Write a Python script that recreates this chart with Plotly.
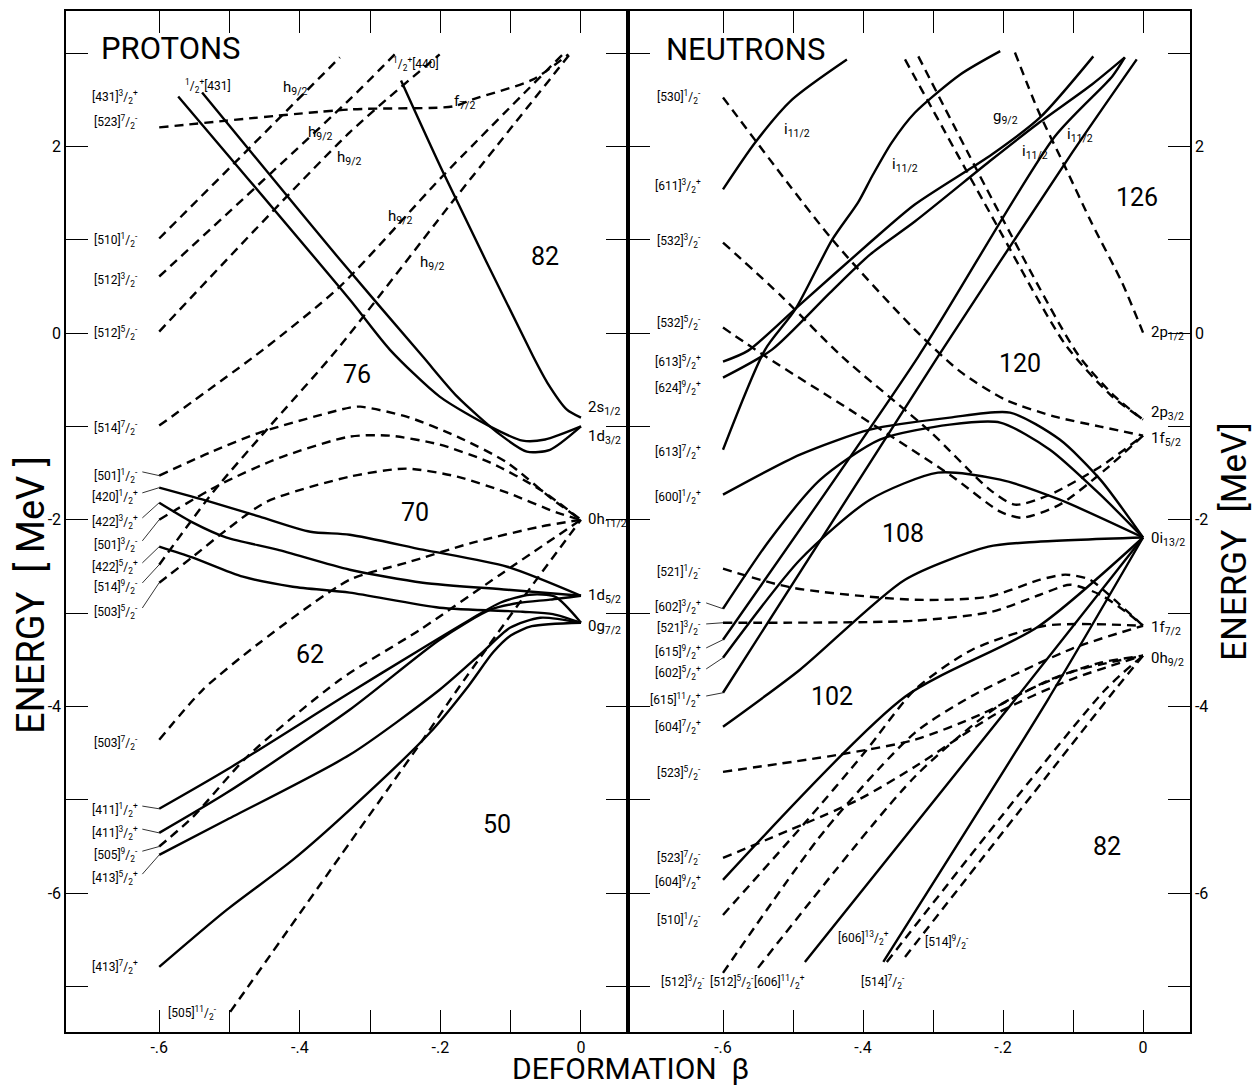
import plotly.graph_objects as go

W, H = 1252, 1087

# ================= PROTONS (left panel): beta, energy [MeV] =================
P431_32_b = [-0.573, -0.329, -0.272, -0.201, -0.129, -0.083, -0.051, 0.0]
P431_32_e = [2.535, 0.359, -0.177, -0.681, -1.002, -1.152, -1.14, -1.0]
P431_12_b = [-0.539, -0.343, -0.225, -0.176, -0.115, -0.077, -0.044, 0.0]
P431_12_e = [2.577, 0.788, -0.252, -0.681, -1.088, -1.27, -1.25, -1.0]
P440_12_b = [-0.256, -0.196, -0.068, -0.048, -0.020, 0.0]
P440_12_e = [2.706, 1.720, -0.252, -0.530, -0.820, -0.906]
P523_72_b = [-0.6, -0.329, -0.182, -0.154, -0.068, -0.018]
P523_72_e = [2.203, 2.395, 2.428, 2.503, 2.717, 2.985]
P510_12_b = [-0.6, -0.343]
P510_12_e = [1.013, 2.953]
P512_32_b = [-0.6, -0.329, -0.265]
P512_32_e = [0.606, 2.503, 2.985]
P512_52_b = [-0.6, -0.329, -0.201]
P512_52_e = [0.016, 2.149, 2.985]
P514_72_b = [-0.6, -0.452, -0.343, -0.196, -0.026]
P514_72_e = [-0.991, -0.177, 0.498, 1.688, 2.985]
P514_92_b = [-0.6, -0.523, -0.447, -0.347, -0.186, -0.016]
P514_92_e = [-2.481, -1.699, -1.034, -0.177, 1.377, 2.985]
P501_12_b = [-0.6, -0.528, -0.457, -0.329, -0.314, -0.248, -0.176, -0.105, -0.040, 0.0]
P501_12_e = [-1.527, -1.281, -1.066, -0.798, -0.788, -0.895, -1.109, -1.388, -1.785, -2.0]
P501_32_b = [-0.6, -0.514, -0.428, -0.329, -0.272, -0.201, -0.129, -0.058, 0.0]
P501_32_e = [-1.999, -1.624, -1.334, -1.109, -1.099, -1.195, -1.388, -1.677, -2.0]
P503_52_b = [-0.6, -0.552, -0.504, -0.447, -0.329, -0.248, -0.176, -0.105, -0.034, 0.0]
P503_52_e = [-2.674, -2.395, -2.106, -1.806, -1.538, -1.452, -1.538, -1.710, -1.924, -2.0]
P503_72_b = [-0.6, -0.538, -0.457, -0.329, -0.248, -0.154, -0.058, 0.0]
P503_72_e = [-4.357, -3.821, -3.317, -2.642, -2.460, -2.245, -2.074, -2.0]
P505_92_b = [-0.6, -0.552, -0.475, -0.343, -0.229, -0.115, 0.0]
P505_92_e = [-5.50, -5.182, -4.539, -3.714, -3.178, -2.588, -2.0]
P505_112_b = [-0.499, -0.329, -0.233, -0.176, -0.077, 0.0]
P505_112_e = [-7.272, -5.461, -4.443, -3.821, -2.781, -2.0]
P420_12_b = [-0.6, -0.528, -0.457, -0.385, -0.329, -0.225, -0.105, 0.0]
P420_12_e = [-1.656, -1.806, -1.967, -2.128, -2.160, -2.320, -2.503, -2.814]
P422_32_b = [-0.6, -0.552, -0.504, -0.432, -0.329, -0.225, -0.105, 0.0]
P422_32_e = [-1.817, -2.031, -2.192, -2.320, -2.535, -2.674, -2.749, -2.814]
P422_52_b = [-0.6, -0.552, -0.481, -0.410, -0.329, -0.201, -0.083, -0.04, 0.0]
P422_52_e = [-2.288, -2.406, -2.610, -2.717, -2.781, -2.942, -2.985, -3.01, -3.103]
P411_12_b = [-0.6, -0.504, -0.329, -0.229, -0.158, -0.115, -0.073, -0.037, 0.0]
P411_12_e = [-5.096, -4.678, -3.853, -3.392, -3.071, -2.889, -2.803, -2.824, -3.103]
P411_32_b = [-0.6, -0.504, -0.329, -0.201, -0.129, -0.087, -0.044, 0.0]
P411_32_e = [-5.354, -4.925, -4.035, -3.285, -2.963, -2.889, -2.856, -2.814]
P413_52_b = [-0.6, -0.504, -0.329, -0.201, -0.144, -0.101, -0.058, 0.0]
P413_52_e = [-5.59, -5.214, -4.518, -3.821, -3.446, -3.157, -3.049, -3.103]
P413_72_b = [-0.6, -0.504, -0.41, -0.329, -0.215, -0.16, -0.125, -0.100, -0.070, 0.0]
P413_72_e = [-6.79, -6.179, -5.643, -5.107, -4.282, -3.78, -3.42, -3.24, -3.14, -3.103]

# ================= NEUTRONS (right panel) =================
N530_12_b = [-0.6, -0.444, -0.326, -0.261, -0.197, -0.126, -0.061, 0.0]
N530_12_e = [2.524, 1.002, 0.037, -0.413, -0.713, -0.895, -1.002, -1.099]
N532_32_b = [-0.6, -0.516, -0.43, -0.304, -0.219, -0.183, -0.133, -0.061, 0.0]
N532_32_e = [0.97, 0.391, -0.252, -1.056, -1.677, -1.838, -1.731, -1.431, -1.099]
N532_52_b = [-0.6, -0.539, -0.419, -0.276, -0.204, -0.173, -0.119, -0.054, 0.0]
N532_52_e = [0.059, -0.252, -0.820, -1.517, -1.913, -1.978, -1.838, -1.463, -1.099]
NP32A_b = [-0.34, -0.219, -0.111, -0.047, 0.0]
NP32A_e = [2.931, 1.292, -0.123, -0.659, -0.927]
NP32B_b = [-0.321, -0.204, -0.093, -0.04, 0.0]
NP32B_e = [2.964, 1.270, -0.230, -0.681, -0.927]
NP12_b = [-0.183, -0.15, -0.111, -0.073, -0.03, 0.0]
NP12_e = [3.006, 2.386, 1.775, 1.174, 0.541, 0.005]
N611_32_b = [-0.6, -0.554, -0.501, -0.423]
N611_32_e = [1.54, 2.042, 2.503, 2.931]
N613_72_b = [-0.6, -0.54, -0.497, -0.444, -0.407, -0.387, -0.359, -0.326, -0.261, -0.204]
N613_72_e = [-1.25, -0.18, 0.25, 1.0, 1.40, 1.68, 2.04, 2.36, 2.77, 3.02]
N613_52_b = [-0.6, -0.564, -0.49, -0.39, -0.326, -0.216, -0.147, -0.071]
N613_52_e = [-0.306, -0.188, 0.305, 0.970, 1.377, 1.913, 2.310, 2.964]
N624_92_b = [-0.6, -0.53, -0.447, -0.39, -0.326, -0.216, -0.15, -0.073, -0.026]
N624_92_e = [-0.477, -0.177, 0.434, 0.841, 1.195, 1.859, 2.245, 2.663, 2.953]
N615_92_b = [-0.6, -0.321, -0.126, -0.044, -0.026]
N615_92_e = [-3.285, -0.252, 2.106, 2.749, 2.953]
N615_112_b = [-0.6, -0.293, -0.101, -0.009]
N615_112_e = [-3.853, -0.252, 1.935, 2.932]
N600_12_b = [-0.6, -0.49, -0.39, -0.276, -0.19, -0.119, -0.061, 0.0]
N600_12_e = [-1.731, -1.302, -1.034, -0.906, -0.852, -1.141, -1.570, -2.19]
N602_32_b = [-0.6, -0.533, -0.461, -0.376, -0.276, -0.204, -0.133, -0.061, 0.0]
N602_32_e = [-2.953, -2.213, -1.570, -1.141, -0.981, -0.959, -1.249, -1.731, -2.19]
N602_52_b = [-0.6, -0.49, -0.39, -0.293, -0.204, -0.119, 0.0]
N602_52_e = [-3.478, -2.428, -1.785, -1.495, -1.570, -1.785, -2.19]
N604_72_b = [-0.6, -0.49, -0.34, -0.221, -0.15, 0.0]
N604_72_e = [-4.217, -3.606, -2.642, -2.288, -2.235, -2.19]
N604_92_b = [-0.6, -0.34, -0.15, 0.0]
N604_92_e = [-5.858, -3.896, -3.146, -2.19]
N606_112_b = [-0.483, -0.183, 0.0]
N606_112_e = [-6.736, -3.928, -2.19]
N606_132_b = [-0.371, -0.136, 0.0]
N606_132_e = [-6.736, -3.928, -2.19]
N521_12_b = [-0.6, -0.501, -0.326, -0.221, -0.147, -0.111, -0.076, -0.033, 0.0]
N521_12_e = [-2.524, -2.728, -2.857, -2.824, -2.642, -2.588, -2.642, -2.910, -3.135]
N521_32_b = [-0.6, -0.326, -0.216, -0.147, -0.104, -0.061, -0.019, 0.0]
N521_32_e = [-3.103, -3.081, -2.985, -2.803, -2.696, -2.803, -3.017, -3.135]
N523_52_b = [-0.6, -0.436, -0.326, -0.233, -0.133, -0.061, 0.0]
N523_52_e = [-4.7, -4.518, -4.357, -4.089, -3.714, -3.531, -3.456]
N523_72_b = [-0.6, -0.407, -0.326, -0.207, -0.104, 0.0]
N523_72_e = [-5.622, -5.0, -4.646, -4.067, -3.714, -3.456]
N510_12_b = [-0.6, -0.483, -0.397, -0.326, -0.244, -0.14, 0.0]
N510_12_e = [-6.233, -5.247, -4.486, -3.821, -3.392, -3.135, -3.135]
N512_32_b = [-0.6, -0.454, -0.326, -0.244, -0.101, 0.0]
N512_32_e = [-6.854, -5.322, -4.282, -3.886, -3.38, -3.135]
N512_52_b = [-0.55, -0.326, -0.204, -0.101, 0.0]
N512_52_e = [-6.8, -4.753, -3.982, -3.628, -3.456]
N514_72_b = [-0.366, -0.054, 0.0]
N514_72_e = [-6.736, -3.821, -3.456]
N514_92_b = [-0.34, -0.04, 0.0]
N514_92_e = [-6.683, -3.821, -3.456]

# ---------------- label energies (left-hand Nilsson labels) ----------------
PL_E = {"431,3,+": 2.524, "523,7,-": 2.256, "510,1,-": 1.002, "512,3,-": 0.573,
        "512,5,-": 0.005, "514,7,-": -1.013, "501,1,-": -1.527, "420,1,+": -1.752,
        "422,3,+": -2.020, "501,3,-": -2.266, "422,5,+": -2.502, "514,9,-": -2.717,
        "503,5,-": -2.985, "503,7,-": -4.389, "411,1,+": -5.107, "411,3,+": -5.354,
        "505,9,-": -5.590, "413,5,+": -5.836, "413,7,+": -6.790}
NL_E = {"530,1,-": 2.524, "611,3,+": 1.570, "532,3,-": 0.981, "532,5,-": 0.113,
        "613,5,+": -0.306, "624,9,+": -0.584, "613,7,+": -1.270, "600,1,+": -1.752,
        "521,1,-": -2.556, "602,3,+": -2.931, "521,3,-": -3.156, "615,9,+": -3.413,
        "602,5,+": -3.638, "615,11,+": -3.928, "604,7,+": -4.217, "523,5,-": -4.710,
        "523,7,-": -5.622, "604,9,+": -5.879, "510,1,-": -6.286}

fig = go.Figure()
DASH = "9px,6px"


def add(b, e, dashed, side):
    fig.add_trace(go.Scatter(
        x=b, y=e, mode="lines",
        line=dict(color="black", width=2.4, dash=DASH if dashed else "solid",
                  shape="spline", smoothing=0.7),
        xaxis="x" if side == 0 else "x2", yaxis="y" if side == 0 else "y2",
        showlegend=False, hoverinfo="skip"))


left_curves = [
    (P431_32_b, P431_32_e, False), (P431_12_b, P431_12_e, False), (P440_12_b, P440_12_e, False),
    (P523_72_b, P523_72_e, True), (P510_12_b, P510_12_e, True), (P512_32_b, P512_32_e, True),
    (P512_52_b, P512_52_e, True), (P514_72_b, P514_72_e, True), (P514_92_b, P514_92_e, True),
    (P501_12_b, P501_12_e, True), (P501_32_b, P501_32_e, True), (P503_52_b, P503_52_e, True),
    (P503_72_b, P503_72_e, True), (P505_92_b, P505_92_e, True), (P505_112_b, P505_112_e, True),
    (P420_12_b, P420_12_e, False), (P422_32_b, P422_32_e, False), (P422_52_b, P422_52_e, False),
    (P411_12_b, P411_12_e, False), (P411_32_b, P411_32_e, False), (P413_52_b, P413_52_e, False),
    (P413_72_b, P413_72_e, False),
]
right_curves = [
    (N530_12_b, N530_12_e, True), (N532_32_b, N532_32_e, True), (N532_52_b, N532_52_e, True),
    (NP32A_b, NP32A_e, True), (NP32B_b, NP32B_e, True), (NP12_b, NP12_e, True),
    (N611_32_b, N611_32_e, False), (N613_72_b, N613_72_e, False), (N613_52_b, N613_52_e, False),
    (N624_92_b, N624_92_e, False), (N615_92_b, N615_92_e, False), (N615_112_b, N615_112_e, False),
    (N600_12_b, N600_12_e, False), (N602_32_b, N602_32_e, False), (N602_52_b, N602_52_e, False),
    (N604_72_b, N604_72_e, False), (N604_92_b, N604_92_e, False), (N606_112_b, N606_112_e, False),
    (N606_132_b, N606_132_e, False),
    (N521_12_b, N521_12_e, True), (N521_32_b, N521_32_e, True), (N523_52_b, N523_52_e, True),
    (N523_72_b, N523_72_e, True), (N510_12_b, N510_12_e, True), (N512_32_b, N512_32_e, True),
    (N512_52_b, N512_52_e, True), (N514_72_b, N514_72_e, True), (N514_92_b, N514_92_e, True),
]
for b, e, d in left_curves:
    add(b, e, d, 0)
for b, e, d in right_curves:
    add(b, e, d, 1)

LAB_B = -0.628  # right edge of the left-hand labels (in beta units)


def leader(lab_e, b, e, side):
    fig.add_trace(go.Scatter(
        x=[LAB_B + 0.004, b[0]], y=[lab_e + 0.04, e[0]], mode="lines",
        line=dict(color="black", width=0.8),
        xaxis="x" if side == 0 else "x2", yaxis="y" if side == 0 else "y2",
        showlegend=False, hoverinfo="skip"))


for key, (b, e) in {"501,1,-": (P501_12_b, P501_12_e), "420,1,+": (P420_12_b, P420_12_e),
                    "422,3,+": (P422_32_b, P422_32_e), "501,3,-": (P501_32_b, P501_32_e),
                    "422,5,+": (P422_52_b, P422_52_e), "514,9,-": (P514_92_b, P514_92_e),
                    "503,5,-": (P503_52_b, P503_52_e), "411,1,+": (P411_12_b, P411_12_e),
                    "411,3,+": (P411_32_b, P411_32_e), "505,9,-": (P505_92_b, P505_92_e),
                    "413,5,+": (P413_52_b, P413_52_e)}.items():
    leader(PL_E[key], b, e, 0)
for key, (b, e) in {"602,3,+": (N602_32_b, N602_32_e), "521,3,-": (N521_32_b, N521_32_e),
                    "615,9,+": (N615_92_b, N615_92_e), "602,5,+": (N602_52_b, N602_52_e),
                    "615,11,+": (N615_112_b, N615_112_e)}.items():
    leader(NL_E[key], b, e, 1)

FONT = "Roboto"
ann = []


def nl(key):
    q, n, p = key.split(",")
    return f"[{q}]<sup>{n}</sup>/<sub>2</sub><sup>{p}</sup>"


def text(s, b, e, side, size=12, anchor="right"):
    ann.append(dict(text=s, x=b, y=e, xref="x" if side == 0 else "x2",
                    yref="y" if side == 0 else "y2", showarrow=False,
                    xanchor=anchor, yanchor="middle",
                    font=dict(family=FONT, size=size, color="black")))


for k, e in PL_E.items():
    text(nl(k), LAB_B, e, 0)
for k, e in NL_E.items():
    text(nl(k), LAB_B, e, 1)

# special placed Nilsson labels
text(nl("505,11,-"), -0.552, -7.283, 0, anchor="center")
text("<sup>1</sup>/<sub>2</sub><sup>+</sup>[431]", -0.53, 2.65, 0, anchor="center")
text("<sup>1</sup>/<sub>2</sub><sup>+</sup>[440]", -0.235, 2.88, 0, anchor="center")
text(nl("512,3,-"), -0.657, -6.951, 1, anchor="center")
text(nl("512,5,-"), -0.587, -6.951, 1, anchor="center")
text(nl("606,11,+"), -0.519, -6.951, 1, anchor="center")
text(nl("514,7,-"), -0.371, -6.951, 1, anchor="center")
text(nl("606,13,+"), -0.399, -6.479, 1, anchor="center")
text(nl("514,9,-"), -0.28, -6.522, 1, anchor="center")

# j-shell labels along curves
for b, e in [(-0.407, 2.62), (-0.371, 2.14), (-0.330, 1.88), (-0.257, 1.24), (-0.212, 0.75)]:
    text("h<sub>9/2</sub>", b, e, 0, size=15, anchor="center")
text("f<sub>7/2</sub>", -0.165, 2.48, 0, size=15, anchor="center")
for b, e in [(-0.495, 2.17), (-0.34, 1.80), (-0.154, 1.94), (-0.09, 2.12)]:
    text("i<sub>11/2</sub>", b, e, 1, size=15, anchor="center")
text("g<sub>9/2</sub>", -0.196, 2.31, 1, size=15, anchor="center")

# spherical levels at beta = 0
for s, e in [("2s<sub>1/2</sub>", -0.80), ("1d<sub>3/2</sub>", -1.11), ("0h<sub>11/2</sub>", -2.0),
             ("1d<sub>5/2</sub>", -2.82), ("0g<sub>7/2</sub>", -3.15)]:
    text(s, 0.007, e, 0, size=15, anchor="left")
for s, e in [("2p<sub>1/2</sub>", 0.0), ("2p<sub>3/2</sub>", -0.86), ("1f<sub>5/2</sub>", -1.14),
             ("0i<sub>13/2</sub>", -2.21), ("1f<sub>7/2</sub>", -3.16), ("0h<sub>9/2</sub>", -3.49)]:
    text(s, 0.009, e, 1, size=15, anchor="left")

# magic gap numbers
for s, b, e in [("76", -0.319, -0.445), ("70", -0.236, -1.924), ("62", -0.385, -3.446),
                ("50", -0.119, -5.268), ("82", -0.051, 0.820)]:
    text(s, b, e, 0, size=25, anchor="center")
for s, b, e in [("126", -0.009, 1.452), ("120", -0.176, -0.327), ("108", -0.343, -2.149),
                ("102", -0.444, -3.896), ("82", -0.051, -5.497)]:
    text(s, b, e, 1, size=25, anchor="center")

# panel headings and axis titles
ann.append(dict(text="PROTONS", x=99 / W, y=1 - 49 / H, xref="paper", yref="paper",
                showarrow=False, xanchor="left", yanchor="middle",
                font=dict(family=FONT, size=31, color="black")))
ann.append(dict(text="NEUTRONS", x=664 / W, y=1 - 50 / H, xref="paper", yref="paper",
                showarrow=False, xanchor="left", yanchor="middle",
                font=dict(family=FONT, size=31, color="black")))
ann.append(dict(text="ENERGY  [ MeV ]", x=31 / W, y=1 - 595 / H, xref="paper", yref="paper",
                showarrow=False, textangle=-90, xanchor="center", yanchor="middle",
                font=dict(family=FONT, size=38, color="black")))
ann.append(dict(text="ENERGY  [MeV]", x=1234 / W, y=1 - 542 / H, xref="paper", yref="paper",
                showarrow=False, textangle=-90, xanchor="center", yanchor="middle",
                font=dict(family=FONT, size=35, color="black")))
ann.append(dict(text="DEFORMATION  β", x=630 / W, y=1 - 1068 / H, xref="paper", yref="paper",
                showarrow=False, xanchor="center", yanchor="middle",
                font=dict(family=FONT, size=30, color="black")))

BETA_TICKS = [-0.6, -0.5, -0.4, -0.3, -0.2, -0.1, 0.0]
BETA_TEXT = ["-.6", "", "-.4", "", "-.2", "", "0"]
E_TICKS = [-7, -6, -5, -4, -3, -2, -1, 0, 1, 2, 3]
E_TEXT = ["", "-6", "", "-4", "", "-2", "", "0", "", "2", ""]

common = dict(showgrid=False, zeroline=False, showline=True, linecolor="black", linewidth=1.5,
              mirror="ticks", ticks="inside", ticklen=22, tickwidth=1.2, tickcolor="black",
              tickfont=dict(family=FONT, size=16, color="black"), fixedrange=True)
ydom = [1 - 1032 / H, 1 - 11 / H]

fig.update_layout(
    width=W, height=H, margin=dict(l=0, r=0, t=0, b=0),
    paper_bgcolor="white", plot_bgcolor="white",
    xaxis=dict(domain=[66 / W, 628 / W], range=[-0.7326, 0.0669], anchor="y",
               tickvals=BETA_TICKS, ticktext=BETA_TEXT, **common),
    yaxis=dict(domain=ydom, range=[-7.487, 3.45], anchor="x",
               tickvals=E_TICKS, ticktext=E_TEXT, **common),
    xaxis2=dict(domain=[628 / W, 1190 / W], range=[-0.7357, 0.0671], anchor="y2",
                tickvals=BETA_TICKS, ticktext=BETA_TEXT, **common),
    yaxis2=dict(domain=ydom, range=[-7.487, 3.45], anchor="x2", side="right",
                tickvals=E_TICKS, ticktext=E_TEXT, **common),
    annotations=ann,
)

fig.write_html("out.html", config={"displayModeBar": False},
               post_script="document.body.style.margin='0px';document.body.style.overflow='hidden';")
